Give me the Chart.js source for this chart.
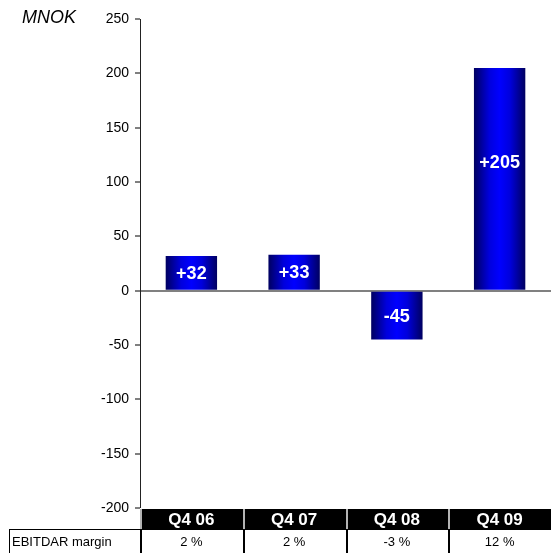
<!DOCTYPE html>
<html>
<head>
<meta charset="utf-8">
<script src="https://cdn.jsdelivr.net/npm/chart.js@4/dist/chart.umd.min.js"></script>
<style>
  html,body{margin:0;padding:0;background:#fff}
  #wrap{width:551px;height:553px;position:relative}
</style>
</head>
<body>
<div id="wrap"><canvas id="c" width="551" height="553"></canvas></div>
<script>
const quarters = ['Q4 06','Q4 07','Q4 08','Q4 09']
const ebitdarChange = [32, 33, -45, 205]
const ebitdarMargin = ['2 %','2 %','-3 %','12 %']
const marginLabel = 'EBITDAR margin'
const yMin = -200, yMax = 250, yStep = 50

const FONT = '"Liberation Sans", Arial, Helvetica, sans-serif'

// horizontal navy -> blue -> navy shading across each bar
function barFill(ctx){
  const chart = ctx.chart
  const area = chart.chartArea
  const xs = chart.scales.x
  if(!area || !xs) return '#0000cc'
  const cx = xs.getPixelForValue(ctx.dataIndex)
  const w = (area.right - area.left) / quarters.length * 0.5
  const g = chart.ctx.createLinearGradient(cx - w/2, 0, cx + w/2, 0)
  g.addColorStop(0, '#000060')
  g.addColorStop(0.3, '#0000dd')
  g.addColorStop(0.5, '#0000ff')
  g.addColorStop(0.7, '#0000dd')
  g.addColorStop(1, '#000060')
  return g
}

const barLabels = {
  id:'barLabels',
  afterDatasetsDraw(chart){
    const c = chart.ctx
    const meta = chart.getDatasetMeta(0)
    c.save()
    c.fillStyle = '#fff'
    c.font = 'bold 18px ' + FONT
    c.textAlign = 'center'
    c.textBaseline = 'middle'
    meta.data.forEach((el,i)=>{
      const v = ebitdarChange[i]
      const h = Math.abs(el.base - el.y)
      const dir = el.base > el.y ? 1 : -1
      const y = el.y + dir * Math.min(h/2, 94)
      c.fillText((v > 0 ? '+' : '') + v, el.x, y + 1)
    })
    c.restore()
  }
}

// category header strip and the margin row underneath the plot
const tableRows = {
  id:'tableRows',
  afterDraw(chart){
    const c = chart.ctx
    const a = chart.chartArea
    const n = quarters.length
    const cw = (a.right - a.left) / n
    const hTop = a.bottom + 1, hBot = hTop + 21
    const rBot = chart.height + 2
    c.save()
    c.fillStyle = '#000'
    c.fillRect(a.left, hTop, a.right - a.left, hBot - hTop)
    c.fillStyle = '#b4b4b4'
    for(let i=0;i<n;i++) c.fillRect(Math.round(a.left + i*cw), hTop, 2, hBot - hTop)
    c.fillStyle = '#fff'
    c.font = 'bold 17px ' + FONT
    c.textAlign = 'center'
    c.textBaseline = 'middle'
    quarters.forEach((q,i)=> c.fillText(q, a.left + (i+0.5)*cw, (hTop+hBot)/2 + 1))

    // margin row
    c.strokeStyle = '#000'
    c.lineWidth = 1
    c.strokeRect(9.5, hBot - 0.5, chart.width, rBot)
    c.fillStyle = '#000'
    for(let i=0;i<n;i++) c.fillRect(Math.round(a.left + i*cw), hBot, 2, rBot - hBot)
    c.font = '13px ' + FONT
    c.textAlign = 'left'
    c.fillText(marginLabel, 12, hBot + 12)
    c.textAlign = 'center'
    ebitdarMargin.forEach((m,i)=> c.fillText(m, a.left + (i+0.5)*cw, hBot + 12))

    // unit caption
    c.font = 'italic 18px ' + FONT
    c.textAlign = 'left'
    c.textBaseline = 'alphabetic'
    c.fillText('MNOK', 22, 23)
    c.restore()
  }
}

new Chart(document.getElementById('c'), {
  type:'bar',
  data:{
    labels:quarters,
    datasets:[{
      data:ebitdarChange,
      backgroundColor:barFill,
      borderWidth:0,
      categoryPercentage:1,
      barPercentage:0.5
    }]
  },
  options:{
    responsive:false,
    animation:false,
    devicePixelRatio:1,
    layout:{padding:{top:19, bottom:45, left:0, right:0}},
    plugins:{legend:{display:false}, tooltip:{enabled:false}},
    scales:{
      x:{display:false},
      y:{
        min:yMin, max:yMax,
        afterFit(s){ s.width = 140 },
        ticks:{stepSize:yStep, color:'#000', padding:6, font:{family:FONT, size:14}},
        grid:{
          drawTicks:true, tickLength:5, tickColor:'#000', tickWidth:1,
          color:ctx => ctx.tick && ctx.tick.value === 0 ? '#808080' : 'rgba(0,0,0,0)',
          lineWidth:ctx => ctx.tick && ctx.tick.value === 0 ? 2 : 0
        },
        border:{display:true, color:'#222', width:1}
      }
    }
  },
  plugins:[barLabels, tableRows]
})
</script>
</body>
</html>
